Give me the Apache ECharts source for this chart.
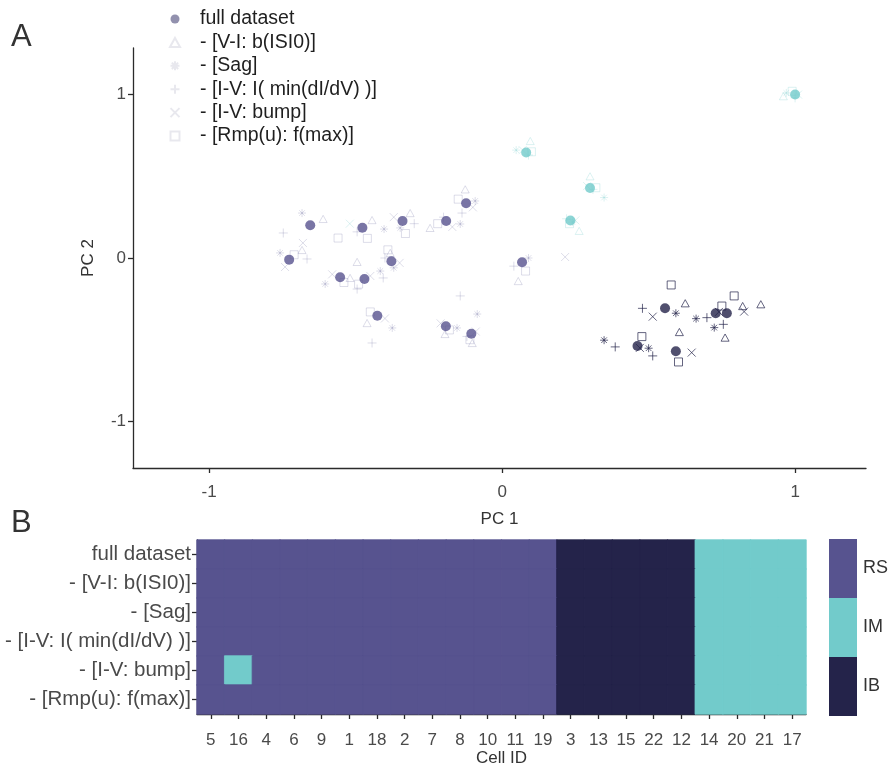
<!DOCTYPE html>
<html>
<head>
<meta charset="utf-8">
<script src="https://cdn.jsdelivr.net/npm/echarts@6/dist/echarts.min.js"></script>
<style>
  html, body { margin: 0; padding: 0; background: #fff; }
  #chart { width: 889px; height: 770px; }
</style>
</head>
<body>
<div id="chart"></div>
<script>
// ---- Data -------------------------------------------------------------
const cellIds = ['5','16','4','6','9','1','18','2','7','8','10','11','19','3','13','15','22','12','14','20','21','17'];

const datasetNames = ['full dataset', '- [V-I: b(ISI0)]', '- [Sag]', '- [I-V: I( min(dI/dV) )]', '- [I-V: bump]', '- [Rmp(u): f(max)]'];

// cluster assignment of every cell, one row per dataset
const clustersFull  = ['RS','RS','RS','RS','RS','RS','RS','RS','RS','RS','RS','RS','RS','IB','IB','IB','IB','IB','IM','IM','IM','IM'];
const clustersVI    = ['RS','RS','RS','RS','RS','RS','RS','RS','RS','RS','RS','RS','RS','IB','IB','IB','IB','IB','IM','IM','IM','IM'];
const clustersSag   = ['RS','RS','RS','RS','RS','RS','RS','RS','RS','RS','RS','RS','RS','IB','IB','IB','IB','IB','IM','IM','IM','IM'];
const clustersIVmin = ['RS','RS','RS','RS','RS','RS','RS','RS','RS','RS','RS','RS','RS','IB','IB','IB','IB','IB','IM','IM','IM','IM'];
const clustersBump  = ['RS','IM','RS','RS','RS','RS','RS','RS','RS','RS','RS','RS','RS','IB','IB','IB','IB','IB','IM','IM','IM','IM'];
const clustersRmp   = ['RS','RS','RS','RS','RS','RS','RS','RS','RS','RS','RS','RS','RS','IB','IB','IB','IB','IB','IM','IM','IM','IM'];

// PCA coordinates [PC1, PC2] of each cell, same order as cellIds
const pcFull = [
  [-0.655, 0.200], [-0.477, 0.185], [-0.340, 0.226], [-0.191, 0.226], [-0.123, 0.335],
  [-0.727, -0.010], [-0.553, -0.118], [-0.470, -0.128], [-0.378, -0.020], [0.068, -0.026],
  [-0.426, -0.353], [-0.192, -0.418], [-0.105, -0.463],
  [0.556, -0.308], [0.729, -0.338], [0.767, -0.338], [0.462, -0.538], [0.593, -0.571],
  [0.082, 0.646], [0.300, 0.428], [0.233, 0.230], [1.000, 1.000]
];
const pcVI = [
  [-0.611, 0.239], [-0.444, 0.232], [-0.314, 0.275], [-0.246, 0.184], [-0.126, 0.420],
  [-0.683, 0.049], [-0.519, -0.122], [-0.495, -0.024], [-0.382, 0.031], [0.055, -0.141],
  [-0.461, -0.398], [-0.195, -0.465], [-0.102, -0.520],
  [0.625, -0.277], [0.821, -0.294], [0.883, -0.283], [0.761, -0.487], [0.605, -0.453],
  [0.096, 0.716], [0.300, 0.500], [0.263, 0.166], [0.960, 0.990]
];
const pcSag = [
  [-0.683, 0.275], [-0.403, 0.177], [-0.348, 0.184], [-0.143, 0.208], [-0.092, 0.349],
  [-0.758, 0.031], [-0.604, -0.159], [-0.416, -0.080], [-0.370, -0.060], [0.090, 0.000],
  [-0.375, -0.428], [-0.154, -0.428], [-0.085, -0.343],
  [0.593, -0.338], [0.662, -0.371], [0.724, -0.426], [0.348, -0.503], [0.500, -0.552],
  [0.048, 0.660], [0.348, 0.370], [0.240, 0.220], [0.970, 1.010]
];
const pcIVmin = [
  [-0.747, 0.153], [-0.495, 0.160], [-0.300, 0.210], [-0.200, 0.250], [-0.137, 0.275],
  [-0.666, -0.006], [-0.495, -0.190], [-0.406, -0.122], [-0.400, 0.000], [0.040, -0.050],
  [-0.444, -0.520], [-0.143, -0.232], [-0.120, -0.480],
  [0.479, -0.308], [0.699, -0.365], [0.755, -0.406], [0.386, -0.544], [0.514, -0.599],
  [0.090, 0.630], [0.310, 0.420], [0.220, 0.240], [1.000, 0.980]
];
const pcBump = [
  [-0.680, 0.092], [-0.520, 0.210], [-0.370, 0.250], [-0.170, 0.190], [-0.100, 0.310],
  [-0.741, -0.055], [-0.580, -0.100], [-0.450, -0.110], [-0.350, -0.030], [0.215, 0.006],
  [-0.400, -0.370], [-0.210, -0.400], [-0.090, -0.450],
  [0.514, -0.359], [0.740, -0.330], [0.826, -0.328], [0.470, -0.550], [0.647, -0.579],
  [0.070, 0.660], [0.290, 0.440], [0.250, 0.230], [1.010, 1.000]
];
const pcRmp = [
  [-0.560, 0.122], [-0.460, 0.120], [-0.330, 0.150], [-0.220, 0.210], [-0.150, 0.360],
  [-0.710, 0.020], [-0.540, -0.150], [-0.490, -0.160], [-0.390, 0.050], [0.080, -0.080],
  [-0.450, -0.330], [-0.180, -0.440], [-0.110, -0.500],
  [0.577, -0.165], [0.750, -0.294], [0.792, -0.232], [0.477, -0.481], [0.602, -0.636],
  [0.100, 0.650], [0.320, 0.430], [0.230, 0.210], [0.990, 1.020]
];

const pcTicks = [-1, 0, 1];

// ---- Styling ----------------------------------------------------------
const clusterColor = { RS: '#57538f', IM: '#72cbcb', IB: '#24234a' };
const clusterLevel = { IB: 0, IM: 1, RS: 2 };
const markOpacity = { RS: 0.2, IM: 0.25, IB: 0.7 };
const FONT = '"Liberation Sans", Arial, Helvetica, sans-serif';

const SYM = {
  triangle: 'path://M5,0L10,9L0,9Z',
  asterisk: 'path://M5,0L5,10M0,5L10,5M1.5,1.5L8.5,8.5M8.5,1.5L1.5,8.5',
  plus: 'path://M5,0L5,10M0,5L10,5',
  cross: 'path://M0,0L10,10M10,0L0,10',
  square: 'path://M0,0L10,0L10,10L0,10Z'
};

const perturbed = [
  { name: datasetNames[1], pts: pcVI,    cl: clustersVI,    sym: SYM.triangle, size: 8 },
  { name: datasetNames[2], pts: pcSag,   cl: clustersSag,   sym: SYM.asterisk, size: 8 },
  { name: datasetNames[3], pts: pcIVmin, cl: clustersIVmin, sym: SYM.plus,     size: 9 },
  { name: datasetNames[4], pts: pcBump,  cl: clustersBump,  sym: SYM.cross,    size: 8 },
  { name: datasetNames[5], pts: pcRmp,   cl: clustersRmp,   sym: SYM.square,   size: 8 }
];

const clusterRows = [clustersFull, clustersVI, clustersSag, clustersIVmin, clustersBump, clustersRmp];

// ---- Series -----------------------------------------------------------
const series = [];

perturbed.forEach(p => {
  series.push({
    type: 'scatter',
    name: p.name,
    xAxisIndex: 0, yAxisIndex: 0,
    symbol: p.sym,
    symbolSize: p.size,
    symbolKeepAspect: true,
    itemStyle: { color: 'rgba(0,0,0,0)', borderColor: '#e2e2ea', borderWidth: 1 },
    emphasis: { disabled: true },
    z: 2,
    data: p.pts.map((xy, i) => ({
      value: xy,
      itemStyle: {
        color: 'rgba(0,0,0,0)',
        borderColor: clusterColor[p.cl[i]],
        borderWidth: 1,
        opacity: markOpacity[p.cl[i]]
      }
    }))
  });
});

series.push({
  type: 'scatter',
  name: datasetNames[0],
  xAxisIndex: 0, yAxisIndex: 0,
  symbol: 'circle',
  symbolSize: 10,
  itemStyle: { color: '#77769a' },
  emphasis: { disabled: true },
  z: 3,
  data: pcFull.map((xy, i) => ({
    value: xy,
    itemStyle: { color: clusterColor[clustersFull[i]] }
  }))
});

// heatmap cells; a hairline border in the cell's own colour closes the seams
const heatData = [];
clusterRows.forEach((row, r) => {
  row.forEach((c, i) => heatData.push({
    value: [i, r, clusterLevel[c]],
    itemStyle: { borderColor: clusterColor[c], borderWidth: 0.8 }
  }));
});
series.push({
  type: 'heatmap',
  xAxisIndex: 1, yAxisIndex: 1,
  data: heatData,
  emphasis: { disabled: true }
});
const heatIndex = series.length - 1;

// ---- Chart ------------------------------------------------------------
const axisLine = { show: true, onZero: false, lineStyle: { color: '#2b2b2b', width: 1.3 } };
const tickStyle = { show: true, length: 5, lineStyle: { color: '#2b2b2b', width: 1.3 } };
const labelStyle = { color: '#4a4a4a', fontFamily: FONT };
const nameStyle = { color: '#333', fontSize: 17, fontFamily: FONT };

const chart = echarts.init(document.getElementById('chart'), null, { renderer: 'canvas' });
chart.setOption({
  backgroundColor: '#fff',
  animation: false,
  textStyle: { fontFamily: FONT },
  title: [
    { text: 'A', left: 11, top: 22, padding: 0, textStyle: { fontSize: 31, fontWeight: 'normal', color: '#333', fontFamily: FONT } },
    { text: 'B', left: 11, top: 508, padding: 0, textStyle: { fontSize: 31, fontWeight: 'normal', color: '#333', fontFamily: FONT } }
  ],
  legend: {
    orient: 'vertical',
    left: 164, top: 4,
    itemWidth: 40, itemHeight: 9, itemGap: 3.4,
    selectedMode: false,
    data: datasetNames,
    textStyle: { fontSize: 19.5, color: '#1f1f1f', fontFamily: FONT }
  },
  grid: [
    { left: 133, top: 48, width: 733, height: 420 },
    { left: 197, top: 540, width: 609, height: 174 }
  ],
  xAxis: [
    {
      type: 'value', gridIndex: 0, min: -1.26, max: 1.242,
      name: 'PC 1', nameLocation: 'middle', nameGap: 43,
      nameTextStyle: nameStyle,
      axisLine: axisLine,
      axisTick: Object.assign({ customValues: pcTicks }, tickStyle),
      axisLabel: Object.assign({ customValues: pcTicks, margin: 16, fontSize: 17 }, labelStyle),
      splitLine: { show: false }
    },
    {
      type: 'category', gridIndex: 1, data: cellIds,
      name: 'Cell ID', nameLocation: 'middle', nameGap: 36,
      nameTextStyle: nameStyle,
      axisLine: axisLine,
      axisTick: Object.assign({ alignWithLabel: true }, tickStyle),
      axisLabel: Object.assign({ interval: 0, margin: 18, fontSize: 17 }, labelStyle),
      splitLine: { show: false }
    }
  ],
  yAxis: [
    {
      type: 'value', gridIndex: 0, min: -1.285, max: 1.285,
      name: 'PC 2', nameLocation: 'middle', nameGap: 36, nameRotate: 90,
      nameTextStyle: nameStyle,
      axisLine: axisLine,
      axisTick: Object.assign({ customValues: pcTicks }, tickStyle),
      axisLabel: Object.assign({ customValues: pcTicks, margin: 7, fontSize: 17 }, labelStyle),
      splitLine: { show: false }
    },
    {
      type: 'category', gridIndex: 1, data: datasetNames, inverse: true,
      axisLine: axisLine,
      axisTick: Object.assign({ alignWithLabel: true }, tickStyle),
      axisLabel: Object.assign({ interval: 0, margin: 6, fontSize: 20.5 }, labelStyle),
      splitLine: { show: false }
    }
  ],
  visualMap: {
    type: 'piecewise',
    seriesIndex: heatIndex,
    orient: 'vertical',
    align: 'left',
    left: 829, top: 539, padding: 0,
    itemWidth: 28, itemHeight: 59, itemGap: 0,
    itemSymbol: 'rect',
    textGap: 6,
    selectedMode: false,
    hoverLink: false,
    pieces: [
      { value: clusterLevel.IB, label: 'IB', color: clusterColor.IB },
      { value: clusterLevel.IM, label: 'IM', color: clusterColor.IM },
      { value: clusterLevel.RS, label: 'RS', color: clusterColor.RS }
    ],
    textStyle: { color: '#333', fontSize: 18, fontFamily: FONT }
  },
  series: series
});
</script>
</body>
</html>
